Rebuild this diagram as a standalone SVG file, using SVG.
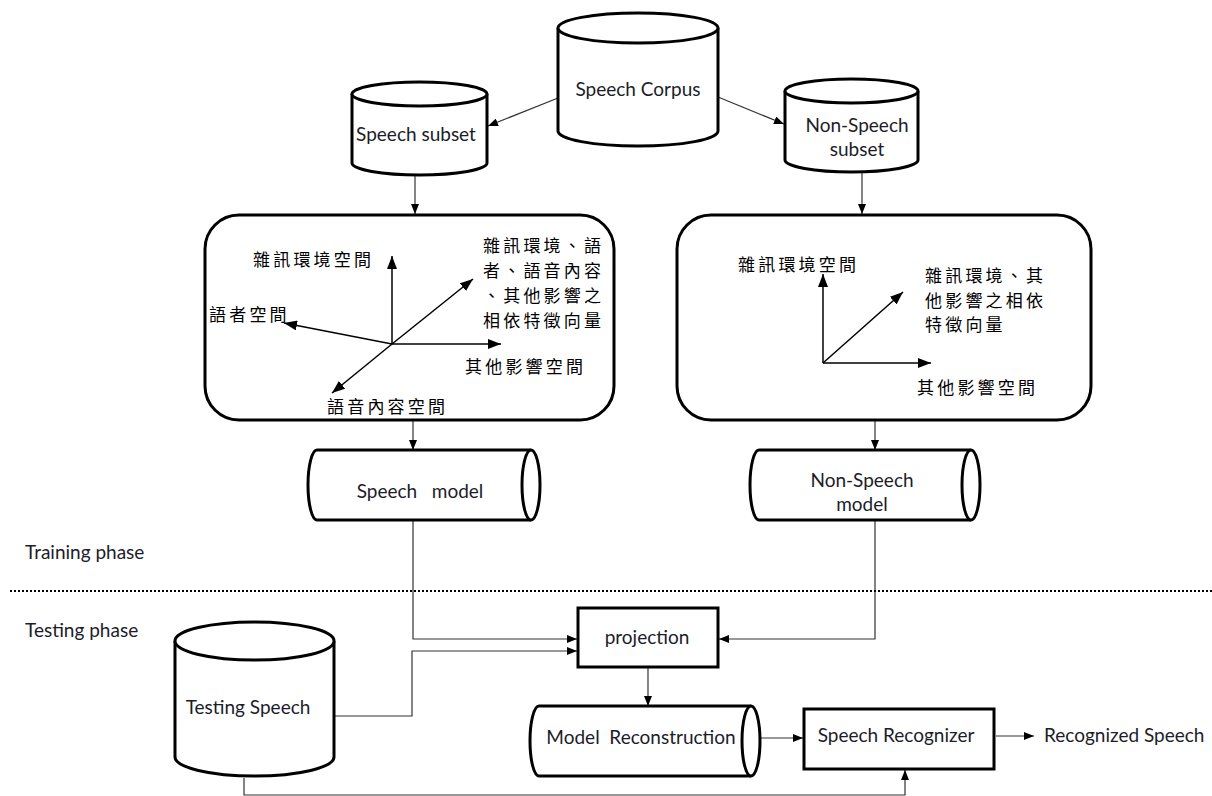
<svg xmlns="http://www.w3.org/2000/svg" width="1212" height="796" viewBox="0 0 1212 796">
<style>
.sh{fill:#fff;stroke:#000;stroke-width:3}
.t{font-family:Lato,"Open Sans",sans-serif;font-size:19px;fill:#1c1c2a}
.c{font-family:"Noto Sans CJK TC",sans-serif;font-size:17px;letter-spacing:3.2px;fill:#000}
.ln{fill:none;stroke:#333;stroke-width:1.2}
.ax{fill:none;stroke:#000;stroke-width:1.5}
</style>
<defs>
<marker id="ah" markerWidth="10" markerHeight="8" refX="10" refY="4" orient="auto" markerUnits="userSpaceOnUse"><path d="M0,0 L10,4 L0,8 Z" fill="#000"/></marker>
<marker id="aa" markerWidth="13" markerHeight="10" refX="13" refY="5" orient="auto" markerUnits="userSpaceOnUse"><path d="M0,0 L13,5 L0,10 Z" fill="#000"/></marker>
</defs>
<rect width="1212" height="796" fill="#fff"/>

<g id="connectors">
<line class="ln" x1="558" y1="98" x2="488" y2="126" marker-end="url(#ah)"/>
<line class="ln" x1="718" y1="97" x2="784" y2="124" marker-end="url(#ah)"/>
<line class="ln" x1="415" y1="176" x2="415" y2="214" marker-end="url(#ah)"/>
<line class="ln" x1="862" y1="173" x2="862" y2="214" marker-end="url(#ah)"/>
<line class="ln" x1="413" y1="421" x2="413" y2="450" marker-end="url(#ah)"/>
<line class="ln" x1="875" y1="421" x2="875" y2="450" marker-end="url(#ah)"/>
<polyline class="ln" points="413,520 413,639 577,639" marker-end="url(#ah)"/>
<polyline class="ln" points="875,520 875,639 719,639" marker-end="url(#ah)"/>
<polyline class="ln" points="334,716 412,716 412,651 577,651" marker-end="url(#ah)"/>
<line class="ln" x1="648" y1="668" x2="648" y2="706" marker-end="url(#ah)"/>
<line class="ln" x1="757" y1="738" x2="803" y2="738" marker-end="url(#ah)"/>
<line class="ln" x1="996" y1="736" x2="1034" y2="736" marker-end="url(#ah)"/>
<polyline class="ln" points="244,778 244,795 905,795 905,770" marker-end="url(#ah)"/>
<line x1="10" y1="591" x2="1212" y2="591" stroke="#000" stroke-width="2" stroke-dasharray="2,2"/>
</g>

<g id="speech-corpus">
<path class="sh" d="M558,28 V131 A80,15 0 0 0 718,131 V28"/>
<ellipse class="sh" cx="638" cy="28" rx="80" ry="15"/>
<text class="t" x="638" y="96" text-anchor="middle">Speech Corpus</text>
</g>

<g id="speech-subset">
<path class="sh" d="M352,94 V163 A67.5,12 0 0 0 487,163 V94"/>
<ellipse class="sh" cx="419.5" cy="94" rx="67.5" ry="12"/>
<text class="t" x="416" y="141" text-anchor="middle">Speech subset</text>
</g>

<g id="nonspeech-subset">
<path class="sh" d="M785,91 V160 A66.5,12 0 0 0 918,160 V91"/>
<ellipse class="sh" cx="851.5" cy="91" rx="66.5" ry="12"/>
<text class="t" x="857" y="132" text-anchor="middle">Non-Speech</text>
<text class="t" x="857" y="156" text-anchor="middle">subset</text>
</g>

<g id="speech-space">
<rect class="sh" x="205" y="215" width="409" height="205" rx="34"/>
<line class="ax" x1="392" y1="344" x2="392" y2="256" marker-end="url(#aa)"/>
<line class="ax" x1="392" y1="344" x2="284" y2="323" marker-end="url(#aa)"/>
<line class="ax" x1="392" y1="344" x2="501" y2="344" marker-end="url(#aa)"/>
<line class="ax" x1="392" y1="344" x2="473" y2="279" marker-end="url(#aa)"/>
<line class="ax" x1="392" y1="344" x2="332" y2="393" marker-end="url(#aa)"/>
<text class="c" x="253" y="266">雜訊環境空間</text>
<text class="c" x="209" y="321">語者空間</text>
<text class="c" x="465" y="373">其他影響空間</text>
<text class="c" x="327" y="413">語音內容空間</text>
<text class="c" x="483" y="252">雜訊環境、語</text>
<text class="c" x="483" y="277">者、語音內容</text>
<text class="c" x="483" y="302">、其他影響之</text>
<text class="c" x="483" y="327">相依特徵向量</text>
</g>

<g id="nonspeech-space">
<rect class="sh" x="677" y="215" width="414" height="205" rx="34"/>
<line class="ax" x1="823" y1="363" x2="823" y2="274" marker-end="url(#aa)"/>
<line class="ax" x1="823" y1="363" x2="931" y2="363" marker-end="url(#aa)"/>
<line class="ax" x1="823" y1="363" x2="903" y2="292" marker-end="url(#aa)"/>
<text class="c" x="738" y="271">雜訊環境空間</text>
<text class="c" x="925" y="282">雜訊環境、其</text>
<text class="c" x="925" y="307">他影響之相依</text>
<text class="c" x="925" y="331">特徵向量</text>
<text class="c" x="917" y="394">其他影響空間</text>
</g>

<g id="speech-model">
<path class="sh" d="M531,450 H317 A9,35 0 0 0 317,520 H531"/>
<ellipse class="sh" cx="531" cy="485" rx="9" ry="35"/>
<text class="t" x="420" y="498" text-anchor="middle" xml:space="preserve">Speech   model</text>
</g>

<g id="nonspeech-model">
<path class="sh" d="M971,450 H759 A9,35 0 0 0 759,520 H971"/>
<ellipse class="sh" cx="971" cy="485" rx="9" ry="35"/>
<text class="t" x="862" y="487" text-anchor="middle">Non-Speech</text>
<text class="t" x="862" y="511" text-anchor="middle">model</text>
</g>

<g id="phase-labels">
<text class="t" x="25" y="559" font-size="18">Training phase</text>
<text class="t" x="25" y="637" font-size="18">Testing phase</text>
</g>

<g id="testing-speech">
<path class="sh" d="M175,641 V757 A79.5,19 0 0 0 334,757 V641"/>
<ellipse class="sh" cx="254.5" cy="641" rx="79.5" ry="19"/>
<text class="t" x="248" y="714" text-anchor="middle">Testing Speech</text>
</g>

<g id="projection">
<rect class="sh" x="578" y="608" width="140" height="59"/>
<text class="t" x="647" y="644" text-anchor="middle">projection</text>
</g>

<g id="model-reconstruction">
<path class="sh" d="M751,706 H539 A9,35 0 0 0 539,776 H751"/>
<ellipse class="sh" cx="751" cy="741" rx="9" ry="35"/>
<text class="t" x="641" y="744" text-anchor="middle" xml:space="preserve">Model  Reconstruction</text>
</g>

<g id="speech-recognizer">
<rect class="sh" x="804" y="709" width="190" height="60"/>
<text class="t" x="896" y="742" text-anchor="middle">Speech Recognizer</text>
</g>

<g id="recognized-speech">
<text class="t" x="1044" y="742">Recognized Speech</text>
</g>
</svg>
